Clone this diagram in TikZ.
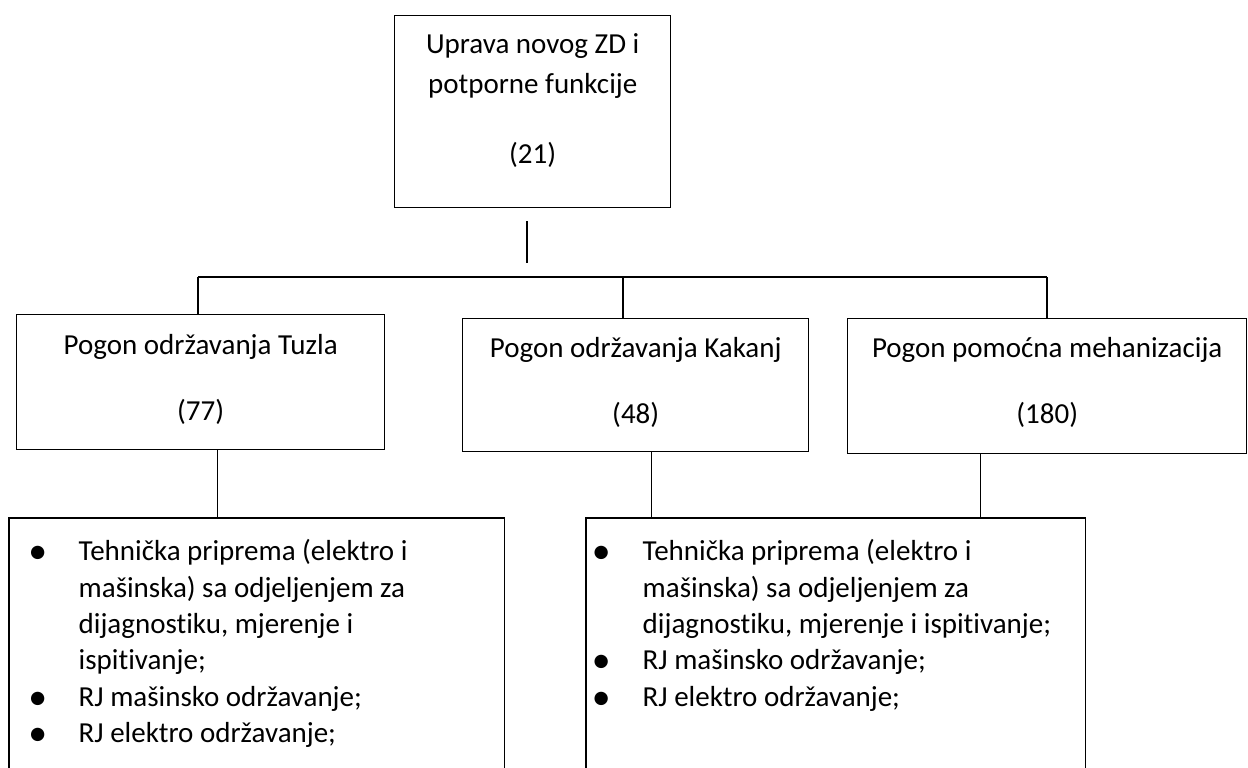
\documentclass[tikz,border=0pt]{standalone}
\usepackage{fontspec}
\setmainfont{Carlito}[Ligatures=NoCommon]

\newcommand{\boxtext}[4]{\begin{minipage}[c][#2][t]{#1}\vspace*{#3}#4\end{minipage}}
\newcommand{\ditem}[3]{\par\noindent\strut\makebox[#2][l]{\hspace*{#1}\makebox[0pt]{\raisebox{-1.5pt}{\scalebox{1.3}{\textbullet}}}}\mbox{#3}}
\newcommand{\dcont}[2]{\par\noindent\strut\hspace*{#1}\mbox{#2}}

\begin{document}
\begin{tikzpicture}[x=0.5pt,y=-0.5pt,line width=0.7pt,
    box/.style={draw,rectangle,inner sep=0pt,anchor=north west,font=\fontsize{14.5}{20}\selectfont},
    list/.style={rectangle,inner sep=0pt,anchor=north west,font=\fontsize{14.5}{18.2}\selectfont}]
            \useasboundingbox (0,0) rectangle (1248,767);

            \node[box] (1) at (394,15) {\boxtext{138pt}{96pt}{5pt}{\centering\strut Uprava novog ZD i\\ potporne funkcije\\[15pt](21)}};
            \node[box] (2) at (16,314) {\boxtext{184pt}{67.5pt}{5.75pt}{\centering\strut Pogon održavanja Tuzla\\[13.25pt](77)}};
            \node[box] (3) at (462,318) {\boxtext{173pt}{66.5pt}{5.5pt}{\centering\strut Pogon održavanja Kakanj\\[13pt](48)}};
            \node[box] (4) at (847,318) {\boxtext{199.5pt}{67.5pt}{5.5pt}{\centering\strut Pogon pomoćna mehanizacija\\[13pt](180)}};

            \node[list] (5) at (9,518) {\boxtext{247pt}{124.5pt}{8.26pt}{%
                \ditem{14pt}{34.5pt}{Tehnička priprema (elektro i}
                \dcont{34.5pt}{mašinska) sa odjeljenjem za}
                \dcont{34.5pt}{dijagnostiku, mjerenje i}
                \dcont{34.5pt}{ispitivanje;}
                \ditem{14pt}{34.5pt}{RJ mašinsko održavanje;}
                \ditem{14pt}{34.5pt}{RJ elektro održavanje;}}};
            \node[list] (6) at (586,518) {\boxtext{249pt}{124.5pt}{8.26pt}{%
                \ditem{7.25pt}{28pt}{Tehnička priprema (elektro i}
                \dcont{28pt}{mašinska) sa odjeljenjem za}
                \dcont{28pt}{dijagnostiku, mjerenje i ispitivanje;}
                \ditem{7.25pt}{28pt}{RJ mašinsko održavanje;}
                \ditem{7.25pt}{28pt}{RJ elektro održavanje;}}};

            \draw (5.south west) -- (5.north west) -- (5.north east) -- (5.south east);
            \draw (6.south west) -- (6.north west) -- (6.north east) -- (6.south east);

            \coordinate (t1) at (527,221);
            \coordinate (t2) at (527,263);
            \coordinate (b1) at (198,277);
            \coordinate (b2) at (623,277);
            \coordinate (b3) at (1047,277);

            \path[draw]
                (t1) edge (t2)
                (b1) edge (b3)
                (b1) edge (b1 |- 2.north)
                (b2) edge (b2 |- 3.north)
                (b3) edge (b3 |- 4.north)
                ([xshift=8.5pt]2.south) edge ([xshift=8.5pt]2.south |- 5.north)
                ([xshift=8pt]3.south) edge ([xshift=8pt]3.south |- 6.north)
                ([xshift=-33.25pt]4.south) edge ([xshift=-33.25pt]4.south |- 6.north)
                ;
        \end{tikzpicture}
\end{document}
